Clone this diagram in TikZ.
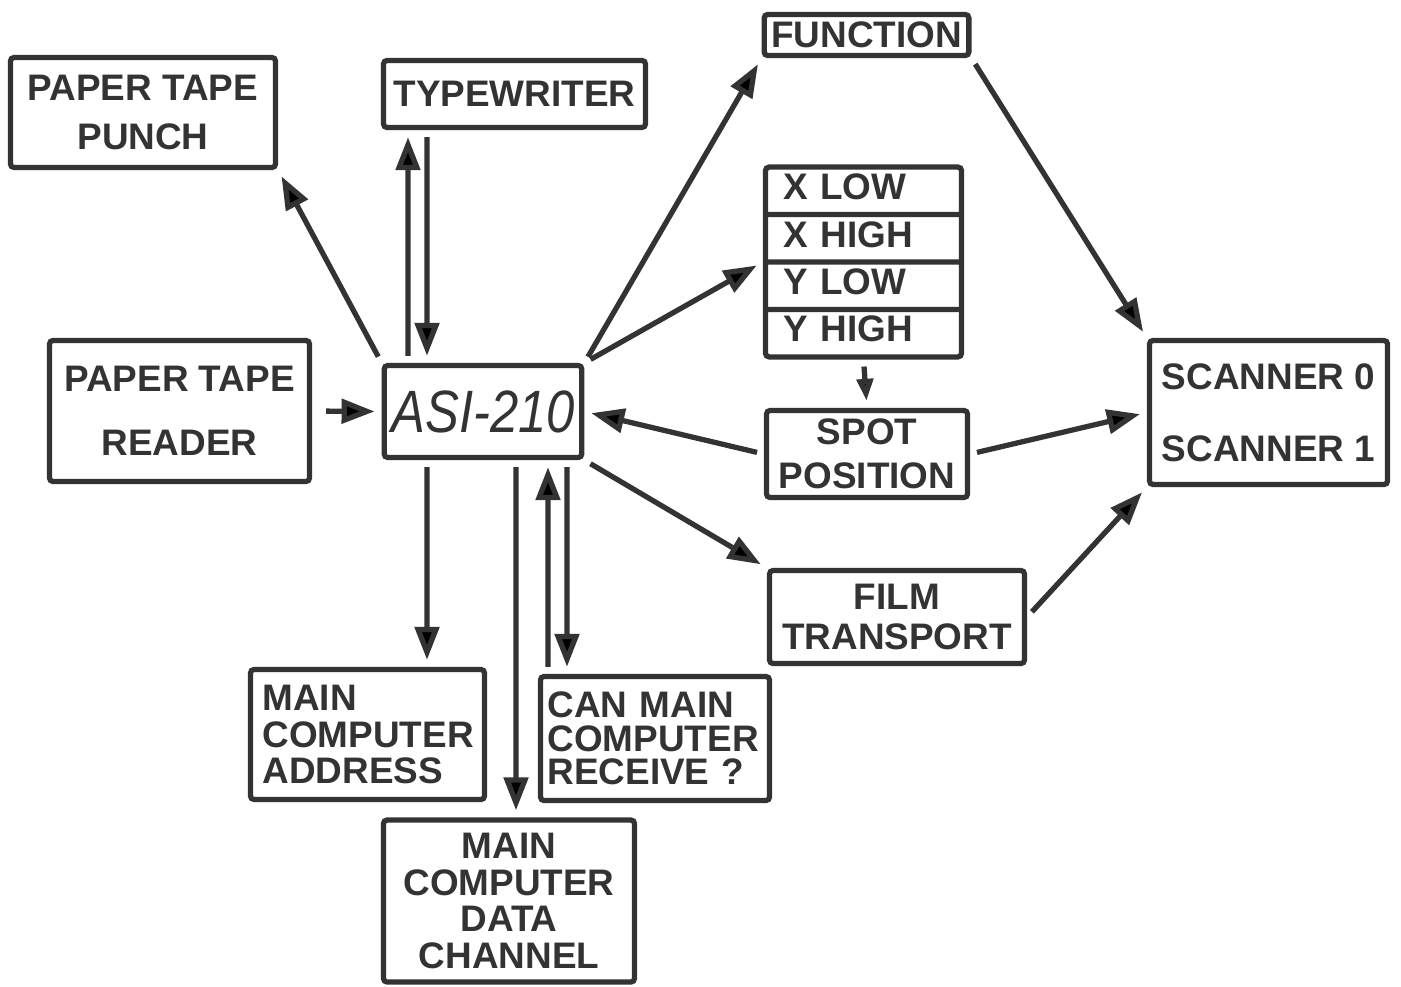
\documentclass[tikz,border=0pt]{standalone}
\usepackage{fontspec}
\setmainfont{Liberation Sans}
\usetikzlibrary{arrows.meta}
\usetikzlibrary{shapes.multipart}
\definecolor{ink}{gray}{0.2}
\newcommand{\xystrut}{\rule[-2.5pt]{0pt}{10pt}}

\begin{document}
\begin{tikzpicture}[
    box/.style={draw=ink, line width=1.5pt, rounded corners=1pt, text=ink, align=center, inner sep=2pt, font=\fontsize{10.5}{10.5}\selectfont\bfseries},
    arr/.style={draw=ink, line width=1.5pt, -{Triangle[length=3.3mm,width=2.4mm]}, shorten <=2pt, shorten >=2pt}
  ]
    \useasboundingbox (0, 0) rectangle (14.01, 9.86);
    \node[box, minimum width=2.65cm, minimum height=1.1cm] (punch) at (1.43, 8.735) {PAPER TAPE\\[3.7pt]PUNCH};
    \node[box, minimum width=2.62cm, minimum height=0.67cm] (typewriter) at (5.145, 8.92) {TYPEWRITER};
    \node[box, minimum width=2.02cm, minimum height=0.41cm] (function) at (8.665, 9.51) {FUNCTION};
    \node[box, rectangle split, rectangle split parts=4, text width=1.6cm, inner xsep=0.18cm, inner ysep=1pt, align=left] (xy) at (8.635, 7.24)
      {\xystrut X LOW\nodepart{two}\xystrut X HIGH\nodepart{three}\xystrut Y LOW\nodepart{four}\xystrut Y HIGH};
    \node[box, minimum width=2.6cm, minimum height=1.41cm] (reader) at (1.795, 5.75) {PAPER TAPE\\[7.6pt]READER};
    \node[box, minimum width=1.95cm, minimum height=0.92cm, font=\fontsize{17}{17}\selectfont\itshape] (asi) at (4.83, 5.745) {\scalebox{0.85}[1]{ASI-210}};
    \node[box, minimum width=2.01cm, minimum height=0.87cm] (spot) at (8.67, 5.32) {SPOT\\[2pt]POSITION};
    \node[box, minimum width=2.38cm, minimum height=1.44cm] (scanner) at (12.685, 5.735) {SCANNER 0\\[9.9pt]SCANNER 1};
    \node[box, minimum width=2.55cm, minimum height=0.93cm] (film) at (8.97, 3.69) {FILM\\[0.8pt]TRANSPORT};
    \node[box, minimum height=1.3cm, text width=2.1cm, inner xsep=0.12cm, align=left] (address) at (3.675, 2.515) {MAIN\\COMPUTER\\ADDRESS};
    \node[box, minimum height=1.24cm, text width=2.15cm, inner xsep=0.07cm, align=left] (canmain) at (6.55, 2.475) {CAN MAIN\\[-0.9pt]COMPUTER\\[-0.9pt]RECEIVE ?};
    \node[box, minimum width=2.51cm, minimum height=1.62cm] (channel) at (5.09, 0.85) {MAIN\\COMPUTER\\DATA\\CHANNEL};
    \draw[arr] (asi.north west) -- (punch.south east);
    \draw[arr, shorten <=4pt] (reader.east) -- (asi.west);
    \draw[arr] ([xshift=-7.5mm]asi.north) -- ([xshift=-10.65mm]typewriter.south);
    \draw[arr] ([xshift=-8.75mm]typewriter.south) -- ([xshift=-5.6mm]asi.north);
    \draw[arr] (asi.north east) -- (function.south west);
    \draw[arr] (asi.north east) -- (xy.two split west);
    \draw[arr] (spot.west) -- (asi.east);
    \draw[arr, -{Triangle[length=2.2mm,width=1.6mm]}] (xy.south) -- (spot.north);
    \draw[arr] (function.south east) -- (scanner.north west);
    \draw[arr] (spot.east) -- (scanner.west);
    \draw[arr] (film.east) -- (scanner.south west);
    \draw[arr] (asi.south east) -- (film.north west);
    \draw[arr] ([xshift=-5.6mm]asi.south) -- ([xshift=5.95mm]address.north);
    \draw[arr] ([xshift=3.3mm]asi.south) -- ([xshift=0.7mm]channel.north);
    \draw[arr] ([xshift=-10.7mm]canmain.north) -- ([xshift=6.5mm]asi.south);
    \draw[arr] ([xshift=8.4mm]asi.south) -- ([xshift=-8.8mm]canmain.north);
  \end{tikzpicture}
\end{document}
